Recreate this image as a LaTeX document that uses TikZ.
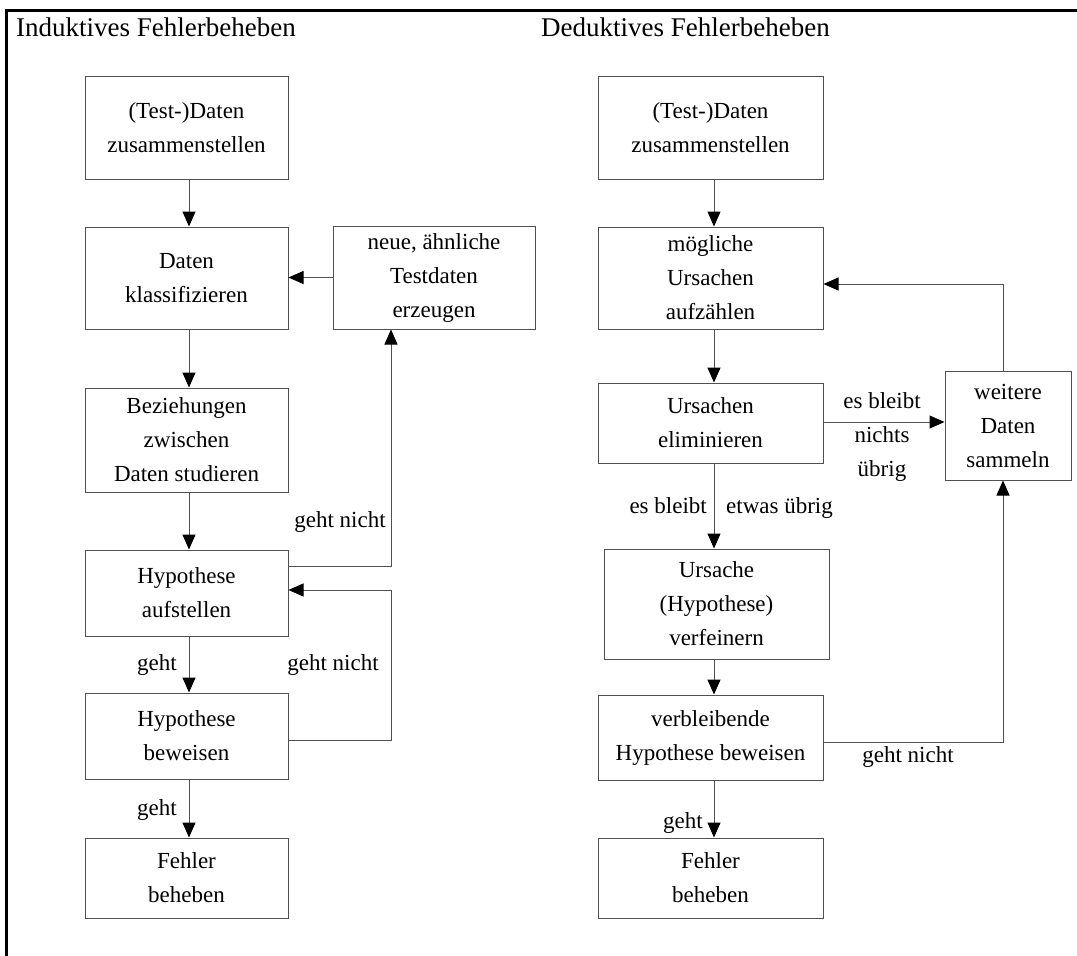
\documentclass[tikz,border=0pt]{standalone}
\usepackage{fontspec}
\setmainfont{Liberation Serif}
\usetikzlibrary{arrows.meta}
\definecolor{linegray}{HTML}{505050}
\tikzset{
  box/.style={draw=linegray, line width=1pt, align=center, inner sep=0pt, font=\fontsize{23}{34}\selectfont},
  lbl/.style={inner sep=0pt, font=\fontsize{23}{34}\selectfont, align=center},
  arr/.style={draw=linegray, line width=1pt, -{Triangle[length=15pt,width=13pt,fill=black,color=black]}},
  ln/.style={draw=linegray, line width=1pt},
}
\begin{document}
\begin{tikzpicture}[x=1pt,y=-1pt]
\useasboundingbox (0,0) rectangle (1077,956);
% frame
\coordinate (fa) at (1077,10.5);
\coordinate (fb) at (6.5,10.5);
\coordinate (fc) at (6.5,956);
\draw[line width=2.5pt, black] (fa) -- (fb) -- (fc);
% titles
\node[anchor=base west, inner sep=0pt, font=\fontsize{27}{32}\selectfont] (T1) at (16,36) {Induktives Fehlerbeheben};
\node[anchor=base west, inner sep=0pt, font=\fontsize{27}{32}\selectfont] (T2) at (541,36) {Deduktives Fehlerbeheben};
% left column
\node[box, minimum width=203, minimum height=103] (L1) at (186.5,127.5) {(Test-)Daten\\zusammenstellen};
\node[box, minimum width=203, minimum height=102] (L2) at (186.5,278) {Daten\\klassifizieren};
\node[box, minimum width=202, minimum height=103] (L3) at (434,277.5) {neue, ähnliche\\Testdaten\\erzeugen};
\node[box, minimum width=203, minimum height=104] (L4) at (186.5,440) {Beziehungen\\zwischen\\Daten studieren};
\node[box, minimum width=203, minimum height=86] (L5) at (186.5,593) {Hypothese\\aufstellen};
\node[box, minimum width=203, minimum height=86] (L6) at (186.5,736) {Hypothese\\beweisen};
\node[box, minimum width=203, minimum height=80] (L7) at (186.5,878) {Fehler\\beheben};
% right column
\node[box, minimum width=225, minimum height=103] (R1) at (710.5,127.5) {(Test-)Daten\\zusammenstellen};
\node[box, minimum width=225, minimum height=102] (R2) at (710.5,278) {mögliche\\Ursachen\\aufzählen};
\node[box, minimum width=225, minimum height=80] (R3) at (710.5,423) {Ursachen\\eliminieren};
\node[box, minimum width=126, minimum height=109] (R4) at (1008,425.5) {weitere\\Daten\\sammeln};
\node[box, minimum width=225, minimum height=110] (R5) at (716.5,604) {Ursache\\(Hypothese)\\verfeinern};
\node[box, minimum width=225, minimum height=85] (R6) at (710.5,737.5) {verbleibende\\Hypothese beweisen};
\node[box, minimum width=225, minimum height=80] (R7) at (710.5,878) {Fehler\\beheben};
% left connectors
\draw[arr] ([xshift=2.5pt]L1.south) -- ([xshift=2.5pt]L2.north);
\draw[arr] ([xshift=2.5pt]L2.south) -- ([xshift=2.5pt]L4.north);
\draw[arr] ([xshift=2.5pt]L4.south) -- ([xshift=2.5pt]L5.north);
\draw[arr] ([xshift=2.5pt]L5.south) -- ([xshift=2.5pt]L6.north);
\draw[arr] ([xshift=2.5pt]L6.south) -- ([xshift=2.5pt]L7.north);
\draw[arr] (L3.west) -- (L3.west -| L2.east);
\coordinate (c1) at (391,566);
\draw[arr] (c1 -| L5.east) -- (c1) -- (c1 |- L3.south);
\coordinate (c2) at (391,740);
\coordinate (c3) at (391,590);
\draw[arr] (c2 -| L6.east) -- (c2) -- (c3) -- (c3 -| L5.east);
\node[lbl, anchor=base] (g1) at (340,527) {geht nicht};
\node[lbl, anchor=base] (g2) at (333,670) {geht nicht};
\node[lbl, anchor=base east] (g3) at (177,670) {geht};
\node[lbl, anchor=base east] (g4) at (177,815) {geht};
% right connectors
\draw[arr] ([xshift=3.5pt]R1.south) -- ([xshift=3.5pt]R2.north);
\draw[arr] ([xshift=3.5pt]R2.south) -- ([xshift=3.5pt]R3.north);
\draw[arr] ([xshift=3.5pt]R3.south) -- ([xshift=-2.5pt]R5.north);
\draw[arr] ([xshift=-2.5pt]R5.south) -- ([xshift=3.5pt]R6.north);
\draw[arr] ([xshift=3.5pt]R6.south) -- ([xshift=3.5pt]R7.north);
\coordinate (d0) at (823,422);
\draw[arr] (d0) -- (d0 -| R4.west);
\coordinate (d1) at (1003,284);
\draw[arr] ([xshift=-5pt]R4.north) -- (d1) -- (d1 -| R2.east);
\coordinate (d2) at (1003,742);
\draw[arr] (d2 -| R6.east) -- (d2) -- ([xshift=-5pt]R4.south);
\node[lbl] (e1) at (882,437) {es bleibt\\nichts\\übrig};
\node[lbl, anchor=base east] (e2) at (707,513) {es bleibt};
\node[lbl, anchor=base west] (e3) at (726,513) {etwas übrig};
\node[lbl, anchor=base east] (e4) at (703,828) {geht};
\node[lbl, anchor=base] (e5) at (908,762) {geht nicht};
\end{tikzpicture}
\end{document}
